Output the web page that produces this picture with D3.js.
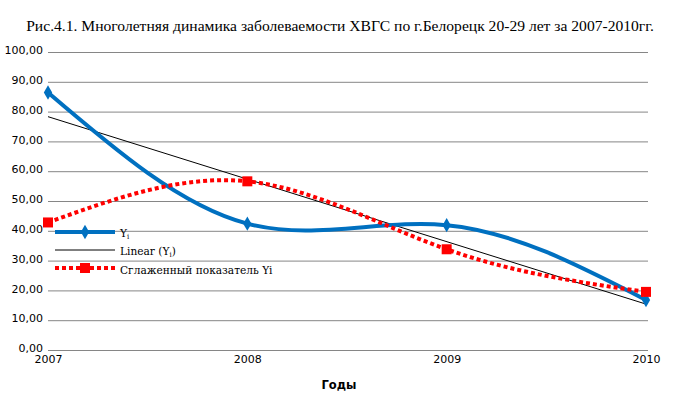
<!DOCTYPE html>
<html><head><meta charset="utf-8">
<script src="https://cdn.jsdelivr.net/npm/d3@7"></script>
<style>body{margin:0;background:#fff}svg{display:block}</style>
</head><body>
<svg id="c" width="678" height="412"></svg>
<script>
const years = [2007, 2008, 2009, 2010];
const yiValues = [86.4, 42.4, 41.9, 16.8];
const smoothedValues = [42.8, 56.6, 33.8, 19.5];
const trendYears = [2007, 2010];
const trendValues = [78.3, 15.4];
const yTicks = [0,10,20,30,40,50,60,70,80,90,100];
const titleText = "Рис.4.1. Многолетняя динамика заболеваемости ХВГС по г.Белорецк 20-29 лет за 2007-2010гг.";
const xTitle = "Годы";
const legendLabels = ["Y", "Linear (Y", "Сглаженный показатель Yi"];

const svg = d3.select("#c");
const L = 48, R = 646, T = 52, B = 350;
const x = d3.scaleLinear().domain([2007, 2010]).range([L, R]);
const y = d3.scaleLinear().domain([0, 100]).range([B, T]);
const fmt = v => v.toFixed(2).replace(".", ",");

svg.append("text").attr("x", 340).attr("y", 31).attr("text-anchor", "middle")
  .attr("font-family", "Liberation Serif").attr("font-size", 15.6).attr("fill", "#000")
  .text(titleText);

// grid
svg.append("g").selectAll("line").data(yTicks).join("line")
  .attr("x1", L).attr("x2", R + 2).attr("y1", d => y(d) + 0.5).attr("y2", d => y(d) + 0.5)
  .attr("stroke", "#868686").attr("stroke-width", 1);

const yAxis = d3.axisLeft(y).tickValues(yTicks).tickFormat(fmt).tickSize(0).tickPadding(5);
const ga = svg.append("g").attr("transform", `translate(${L},0.5)`).call(yAxis);
ga.select(".domain").remove();
ga.selectAll("text").attr("font-family", "DejaVu Sans").attr("font-size", 11).attr("fill", "#000").attr("dy", "0.1em");

const xAxis = d3.axisBottom(x).tickValues(years).tickFormat(d3.format("d")).tickSize(0).tickPadding(5);
const gx = svg.append("g").attr("transform", `translate(0,${B})`).call(xAxis);
gx.select(".domain").remove();
gx.selectAll("text").attr("font-family", "DejaVu Sans").attr("font-size", 11).attr("fill", "#000");

svg.append("text").attr("x", 339).attr("y", 389).attr("text-anchor", "middle")
  .attr("font-family", "DejaVu Sans").attr("font-weight", "bold").attr("font-size", 11.5).attr("fill", "#000")
  .text(xTitle);

const blue = "#0070C0", red = "#FF0000";
const curve = d3.curveNatural;
const line = d3.line().x((d, i) => x(years[i])).y(d => y(d)).curve(curve);

// trend
svg.append("line").attr("x1", x(trendYears[0])).attr("y1", y(trendValues[0]))
  .attr("x2", x(trendYears[1])).attr("y2", y(trendValues[1]))
  .attr("stroke", "#000").attr("stroke-width", 1);

// Yi
svg.append("path").datum(yiValues).attr("d", line).attr("fill", "none")
  .attr("stroke", blue).attr("stroke-width", 4).attr("stroke-linejoin", "round");
const diamond = d3.symbol().type(d3.symbolDiamond).size(60);
svg.append("g").selectAll("path").data(yiValues).join("path")
  .attr("d", diamond).attr("transform", (d, i) => `translate(${x(years[i])},${y(d)})`).attr("fill", blue);

// smoothed
svg.append("path").datum(smoothedValues).attr("d", line).attr("fill", "none")
  .attr("stroke", red).attr("stroke-width", 4).attr("stroke-dasharray", "4,3");
svg.append("g").selectAll("rect").data(smoothedValues).join("rect")
  .attr("x", (d, i) => x(years[i]) - 5).attr("y", d => y(d) - 5).attr("width", 10).attr("height", 10).attr("fill", red);

// legend
const lg = svg.append("g");
const ly = [232, 250, 268];
const lx1 = 55, lx2 = 115;
lg.append("line").attr("x1", lx1).attr("x2", lx2).attr("y1", ly[0]).attr("y2", ly[0]).attr("stroke", blue).attr("stroke-width", 4);
lg.append("path").attr("d", diamond).attr("transform", `translate(${(lx1+lx2)/2},${ly[0]})`).attr("fill", blue);
lg.append("line").attr("x1", lx1).attr("x2", lx2).attr("y1", ly[1]).attr("y2", ly[1]).attr("stroke", "#000").attr("stroke-width", 1);
lg.append("line").attr("x1", lx1).attr("x2", lx2).attr("y1", ly[2]).attr("y2", ly[2]).attr("stroke", red).attr("stroke-width", 4).attr("stroke-dasharray", "4,3");
lg.append("rect").attr("x", (lx1+lx2)/2 - 5).attr("y", ly[2] - 5).attr("width", 10).attr("height", 10).attr("fill", red);

const tf = "DejaVu Serif", ts = 10.6;
const t0 = lg.append("text").attr("x", 120).attr("y", ly[0] + 5).attr("font-family", tf).attr("font-size", ts);
t0.append("tspan").text(legendLabels[0]);
t0.append("tspan").attr("font-size", 7).attr("dy", 2).text("i");
const t1 = lg.append("text").attr("x", 120).attr("y", ly[1] + 5).attr("font-family", tf).attr("font-size", ts);
t1.append("tspan").text(legendLabels[1]);
t1.append("tspan").attr("font-size", 7).attr("dy", 2).text("i");
t1.append("tspan").attr("dy", -2).text(")");
lg.append("text").attr("x", 120).attr("y", ly[2] + 6).attr("font-family", tf).attr("font-size", ts).text(legendLabels[2]);
</script>
</body></html>
